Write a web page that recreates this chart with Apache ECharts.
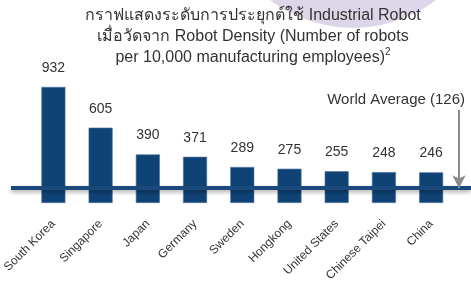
<!doctype html>
<html lang="th">
  <head>
    <meta charset="utf-8">
    <title>Robot Density</title>
    <script src="https://cdn.jsdelivr.net/npm/echarts@6.0.0/dist/echarts.min.js"></script>
    <style>
      html, body { margin: 0; padding: 0; background: #fff; }
      #chart { width: 471px; height: 284px; }
    </style>
  </head>
  <body>
    <div id="chart"></div>
    <script>
    var countries = ['South Korea', 'Singapore', 'Japan', 'Germany', 'Sweden', 'Hongkong', 'United States', 'Chinese Taipei', 'China'];
    var density = [932, 605, 390, 371, 289, 275, 255, 248, 246];
    var worldAverage = 126;
    var arrowTop = 749;   // where the arrow starts, in the same robot-density scale

    var font = '"Liberation Sans", Arial, "Noto Sans", sans-serif';
    var chart = echarts.init(document.getElementById('chart'), null, { renderer: 'canvas' });

    var option = {
      animation: false,
      backgroundColor: '#fff',
      graphic: [
        // lavender circle decoration behind the title
        { type: 'circle', shape: { cx: 353, cy: -109, r: 137 }, style: { fill: '#ddd6e8' }, z: -10 }
      ],
      title: [
        {
          text: 'กราฟแสดงระดับการประยุกต์ใช้ Industrial Robot\nเมื่อวัดจาก Robot Density (Number of robots\nper 10,000 manufacturing employees){sup|2}',
          left: 248,
          top: 0,
          textAlign: 'center',
          textStyle: {
            fontFamily: font, fontSize: 16, fontWeight: 'normal', color: '#333', lineHeight: 21,
            rich: { sup: { fontSize: 10, verticalAlign: 'top', padding: [0, 0, 10, 0], color: '#333', fontFamily: font } }
          }
        },
        {
          text: 'World Average (' + worldAverage + ')',
          right: 1,
          top: 87,
          textStyle: { fontFamily: font, fontSize: 15, fontWeight: 'normal', color: '#333' }
        }
      ],
      grid: [
        { left: 27.25, right: 16.25, top: 78.5, bottom: 80 },
        { left: 0, right: 0, top: 78.5, bottom: 80 }
      ],
      xAxis: [
        {
          type: 'category', gridIndex: 0, data: countries,
          axisLine: { show: false }, axisTick: { show: false },
          axisLabel: { rotate: 45, fontSize: 12, color: '#333', fontFamily: font, margin: 19, interval: 0 }
        },
        { type: 'value', gridIndex: 1, min: 0, max: 471, show: false }
      ],
      yAxis: [
        { type: 'value', gridIndex: 0, min: 0, max: 1000, show: false },
        { type: 'value', gridIndex: 1, min: 0, max: 1000, show: false }
      ],
      series: [
        {
          type: 'bar', xAxisIndex: 0, yAxisIndex: 0, data: density, barWidth: 24,
          itemStyle: { color: '#0f4376', borderColor: '#4d72a0', borderWidth: 0.6 },
          label: { show: true, position: 'top', distance: 12, fontSize: 14, color: '#333', fontFamily: font }
        },
        {
          type: 'line', xAxisIndex: 1, yAxisIndex: 1, data: [], z: 5,
          markLine: {
            silent: true,
            label: { show: false },
            data: [
              [
                { coord: [11, worldAverage], symbol: 'none', lineStyle: { color: '#1a4a7c', width: 4, type: 'solid', shadowColor: 'rgba(0,0,0,0.35)', shadowBlur: 4, shadowOffsetY: 2 } },
                { coord: [471, worldAverage], symbol: 'none' }
              ],
              [
                { coord: [459, arrowTop], symbol: 'none', lineStyle: { color: '#8a8a8a', width: 2, type: 'solid' } },
                { coord: [459, worldAverage], symbol: 'arrow', symbolSize: [10, 13] }
              ]
            ]
          }
        }
      ]
    };

    chart.setOption(option);
    </script>
  </body>
</html>
